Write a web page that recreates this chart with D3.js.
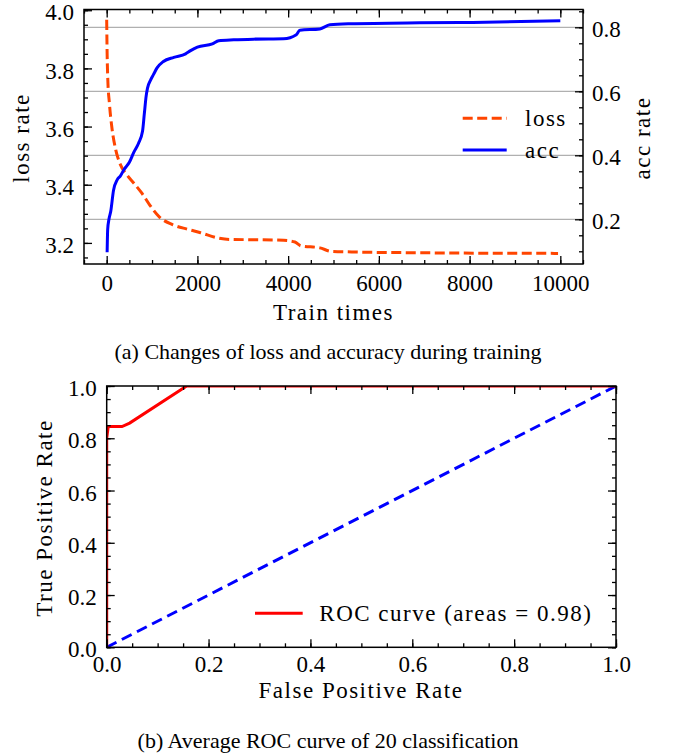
<!DOCTYPE html>
<html>
<head>
<meta charset="utf-8">
<script src="https://cdn.jsdelivr.net/npm/d3@7"></script>
<style>
  body { margin: 0; background: #fff; }
  text { font-family: "Liberation Serif", serif; fill: #000; }
  .tick text { font-size: 23px; }
  .lbl { font-size: 23px; letter-spacing: 1.5px; }
  .cap { font-size: 22px; }
</style>
</head>
<body>
<svg id="chart" width="675" height="754"></svg>
<script>
// training curves (a)
var lossSteps = [0, 10, 25, 60, 120, 200, 300, 440, 600, 780, 950, 1170, 1450, 1780, 2070, 2450, 2700, 3200, 3900, 4150, 4280, 4700, 4950, 5400, 7000, 9950];
var lossRate  = [3.967, 3.85, 3.76, 3.68, 3.59, 3.52, 3.47, 3.435, 3.405, 3.37, 3.33, 3.288, 3.263, 3.247, 3.235, 3.217, 3.212, 3.211, 3.209, 3.203, 3.19, 3.183, 3.171, 3.169, 3.166, 3.164];
var accSteps = [10, 22, 50, 90, 150, 234, 300, 380, 500, 600, 700, 790, 830, 870, 900, 970, 1030, 1110, 1250, 1480, 1740, 1850, 2000, 2330, 2470, 2800, 3240, 3900, 4180, 4260, 4700, 4920, 5360, 6900, 8070, 10000];
var accRate  = [0.097, 0.168, 0.2, 0.225, 0.29, 0.324, 0.335, 0.355, 0.378, 0.41, 0.437, 0.475, 0.53, 0.585, 0.61, 0.636, 0.652, 0.673, 0.693, 0.706, 0.717, 0.727, 0.738, 0.748, 0.758, 0.761, 0.763, 0.764, 0.777, 0.791, 0.795, 0.808, 0.811, 0.814, 0.815, 0.8205];
var stepTicks = [0, 2000, 4000, 6000, 8000, 10000];
var lossTicks = [3.2, 3.4, 3.6, 3.8, 4.0];
var accTicks = [0.2, 0.4, 0.6, 0.8];

// ROC curve (b)
var rocFpr = [0, 0, 0.003, 0.03, 0.045, 0.157, 1];
var rocTpr = [0, 0.80, 0.845, 0.845, 0.858, 1, 1];
var chanceFpr = [0, 1];
var chanceTpr = [0, 1];
var rocTicks = [0, 0.2, 0.4, 0.6, 0.8, 1.0];

var svg = d3.select("#chart");

function range(a, b, s) {
  var out = [];
  for (var i = 0; a + i * s <= b + 1e-9; i++) out.push(+(a + i * s).toFixed(4));
  return out;
}

// draws inward major + minor ticks for one side
function ticks(g, axisFn, scale, major, minor, fmt, pad) {
  g.append("g").call(axisFn(scale).tickValues(minor).tickSize(-4).tickFormat(""));
  g.append("g").call(axisFn(scale).tickValues(major).tickSize(-8).tickPadding(pad).tickFormat(fmt));
  g.selectAll(".domain").remove();
  g.selectAll(".tick line").attr("stroke", "#000").attr("stroke-width", 1.3);
  if (axisFn === d3.axisLeft || axisFn === d3.axisRight) g.selectAll(".tick text").attr("dy", "0.42em");
}

// ---------- (a) ----------
var a = {left: 84, right: 583, top: 9.5, bottom: 264};

var x = d3.scaleLinear().domain([-500, 10500]).range([a.left, a.right]);
var yLoss = d3.scaleLinear().domain([3.1275, 4.0025]).range([a.bottom, a.top]);
var yAcc = d3.scaleLinear().domain([0.0603, 0.8556]).range([a.bottom, a.top]);

svg.append("clipPath").attr("id", "clipA").append("rect")
    .attr("x", a.left).attr("y", a.top)
    .attr("width", a.right - a.left).attr("height", a.bottom - a.top);

// grid from the acc axis
svg.append("g").selectAll("line")
  .data(accTicks)
  .enter().append("line")
    .attr("x1", a.left).attr("x2", a.right)
    .attr("y1", function(d) { return yAcc(d); })
    .attr("y2", function(d) { return yAcc(d); })
    .attr("stroke", "#b0b0b0").attr("stroke-width", 1.2);

var lossLine = d3.line()
    .x(function(d, i) { return x(lossSteps[i]); })
    .y(function(d) { return yLoss(d); })
    .curve(d3.curveMonotoneX);

var accLine = d3.line()
    .x(function(d, i) { return x(accSteps[i]); })
    .y(function(d) { return yAcc(d); })
    .curve(d3.curveMonotoneX);

svg.append("path")
    .attr("clip-path", "url(#clipA)")
    .attr("d", lossLine(lossRate))
    .attr("fill", "none").attr("stroke", "#ff4500")
    .attr("stroke-width", 3).attr("stroke-dasharray", "10,4.5");

svg.append("path")
    .attr("clip-path", "url(#clipA)")
    .attr("d", accLine(accRate))
    .attr("fill", "none").attr("stroke", "#0000ff")
    .attr("stroke-width", 3);

svg.append("rect")
    .attr("x", a.left).attr("y", a.top)
    .attr("width", a.right - a.left).attr("height", a.bottom - a.top)
    .attr("fill", "none").attr("stroke", "#000").attr("stroke-width", 1.5);

ticks(svg.append("g").attr("transform", "translate(0," + a.bottom + ")"),
      d3.axisBottom, x, stepTicks, range(-500, 10500, 500), d3.format("d"), 11);
ticks(svg.append("g").attr("transform", "translate(0," + a.top + ")"),
      d3.axisTop, x, stepTicks, range(-500, 10500, 500), "", 0);
ticks(svg.append("g").attr("transform", "translate(" + a.left + ",0)"),
      d3.axisLeft, yLoss, lossTicks, range(3.15, 4.0, 0.05), d3.format(".1f"), 10);
ticks(svg.append("g").attr("transform", "translate(" + a.right + ",0)"),
      d3.axisRight, yAcc, accTicks, range(0.1, 0.85, 0.05), d3.format(".1f"), 9);

svg.append("text").attr("class", "lbl")
    .attr("x", (a.left + a.right) / 2).attr("y", 320)
    .attr("text-anchor", "middle").text("Train times");
svg.append("text").attr("class", "lbl")
    .attr("transform", "translate(29,138) rotate(-90)")
    .attr("text-anchor", "middle").text("loss rate");
svg.append("text").attr("class", "lbl")
    .attr("transform", "translate(649.5,138) rotate(-90)")
    .attr("text-anchor", "middle").text("acc rate");

// legend (a)
var legendA = [
  {name: "loss", color: "#ff4500", dash: "10,4.5", y: 118.3},
  {name: "acc", color: "#0000ff", dash: null, y: 150}
];
legendA.forEach(function(d) {
  svg.append("line")
      .attr("x1", 462.7).attr("x2", 506.7).attr("y1", d.y).attr("y2", d.y)
      .attr("stroke", d.color).attr("stroke-width", 3)
      .attr("stroke-dasharray", d.dash);
  svg.append("text").attr("class", "lbl")
      .attr("x", 525).attr("y", d.y + 8).text(d.name);
});

svg.append("text").attr("class", "cap")
    .attr("x", 328).attr("y", 359).attr("text-anchor", "middle")
    .text("(a) Changes of loss and accuracy during training");

// ---------- (b) ----------
var b = {left: 106.7, right: 616, top: 386, bottom: 647.3};

var fx = d3.scaleLinear().domain([0, 1]).range([b.left, b.right]);
var ty = d3.scaleLinear().domain([0, 1]).range([b.bottom, b.top]);

svg.append("clipPath").attr("id", "clipB").append("rect")
    .attr("x", b.left).attr("y", b.top)
    .attr("width", b.right - b.left).attr("height", b.bottom - b.top);

var rocLine = d3.line()
    .x(function(d) { return fx(d[0]); })
    .y(function(d) { return ty(d[1]); });

svg.append("path")
    .attr("clip-path", "url(#clipB)")
    .attr("d", rocLine(d3.zip(chanceFpr, chanceTpr)))
    .attr("fill", "none").attr("stroke", "#0000ff")
    .attr("stroke-width", 3).attr("stroke-dasharray", "11,6");

svg.append("path")
    .attr("clip-path", "url(#clipB)")
    .attr("d", rocLine(d3.zip(rocFpr, rocTpr)))
    .attr("fill", "none").attr("stroke", "#ff0000")
    .attr("stroke-width", 3);

svg.append("rect")
    .attr("x", b.left).attr("y", b.top)
    .attr("width", b.right - b.left).attr("height", b.bottom - b.top)
    .attr("fill", "none").attr("stroke", "#000").attr("stroke-width", 1.5);

var minorB = range(0, 1, 0.05);
ticks(svg.append("g").attr("transform", "translate(0," + b.bottom + ")"),
      d3.axisBottom, fx, rocTicks, minorB, d3.format(".1f"), 8);
ticks(svg.append("g").attr("transform", "translate(0," + b.top + ")"),
      d3.axisTop, fx, rocTicks, minorB, "", 0);
ticks(svg.append("g").attr("transform", "translate(" + b.left + ",0)"),
      d3.axisLeft, ty, rocTicks, minorB, d3.format(".1f"), 10);
ticks(svg.append("g").attr("transform", "translate(" + b.right + ",0)"),
      d3.axisRight, ty, rocTicks, minorB, "", 0);

svg.append("text").attr("class", "lbl")
    .attr("x", 361).attr("y", 698)
    .attr("text-anchor", "middle").text("False Positive Rate");
svg.append("text").attr("class", "lbl")
    .attr("transform", "translate(51.5,518) rotate(-90)")
    .attr("text-anchor", "middle").text("True Positive Rate");

svg.append("line")
    .attr("x1", 255).attr("x2", 302.7).attr("y1", 613.3).attr("y2", 613.3)
    .attr("stroke", "#ff0000").attr("stroke-width", 3);
svg.append("text").attr("class", "lbl")
    .attr("x", 319.3).attr("y", 621.3)
    .text("ROC curve (areas = 0.98)");

svg.append("text").attr("class", "cap")
    .attr("x", 328).attr("y", 748).attr("text-anchor", "middle")
    .text("(b) Average ROC curve of 20 classification");
</script>
</body>
</html>
